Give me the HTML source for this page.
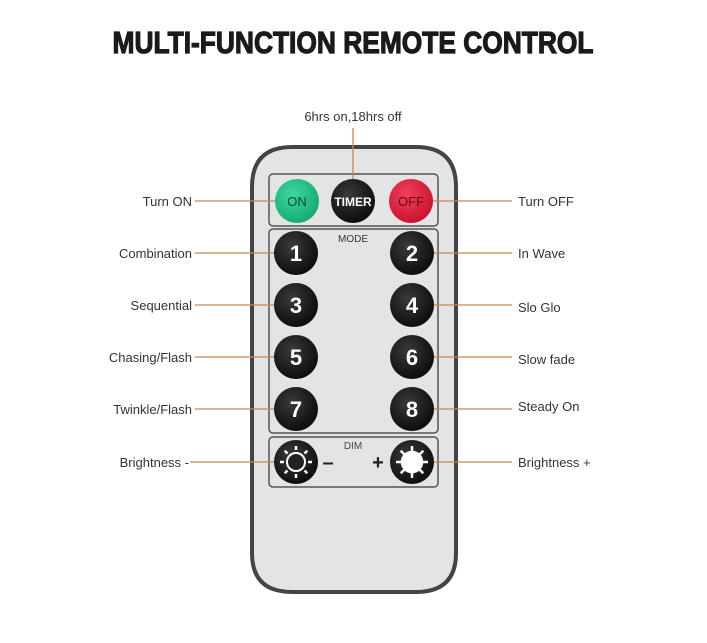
<!DOCTYPE html>
<html><head><meta charset="utf-8"><style>
body{margin:0;background:#fff;}
svg{display:block}
text{font-family:"Liberation Sans",sans-serif;}
</style></head><body>
<svg width="707" height="643" viewBox="0 0 707 643">
<defs>
<radialGradient id="blk" cx="0.4" cy="0.35" r="0.7"><stop offset="0" stop-color="#3a3a3a"/><stop offset="1" stop-color="#0a0a0a"/></radialGradient>
<radialGradient id="grn" cx="0.4" cy="0.35" r="0.7"><stop offset="0" stop-color="#3dd9a0"/><stop offset="1" stop-color="#14a870"/></radialGradient>
<radialGradient id="red" cx="0.4" cy="0.35" r="0.7"><stop offset="0" stop-color="#f0405a"/><stop offset="1" stop-color="#c8102e"/></radialGradient>
</defs>
<text x="353" y="53" text-anchor="middle" font-family="Liberation Sans Narrow, Liberation Sans, sans-serif" font-weight="bold" font-size="31" fill="#1a1a1a" stroke="#1a1a1a" stroke-width="1.2" textLength="481" lengthAdjust="spacingAndGlyphs">MULTI-FUNCTION REMOTE CONTROL</text>
<text x="353" y="121" text-anchor="middle" font-size="13" fill="#333">6hrs on,18hrs off</text>
<path d="M292 147 H416 Q456 147 456 187 V553 Q456 592 416 592 H292 Q252 592 252 553 V187 Q252 147 292 147 Z" fill="#e4e4e4" stroke="#444" stroke-width="4"/>
<rect x="269" y="174" width="169" height="52" rx="4" fill="none" stroke="#555" stroke-width="1.5"/>
<rect x="269" y="229" width="169" height="204" rx="4" fill="none" stroke="#555" stroke-width="1.5"/>
<rect x="269" y="437" width="169" height="50" rx="4" fill="none" stroke="#555" stroke-width="1.5"/>
<text x="353" y="242" text-anchor="middle" font-size="10" fill="#333">MODE</text>
<text x="353" y="449" text-anchor="middle" font-size="10" fill="#444">DIM</text>
<g stroke="#c8864a" stroke-width="1.3">
<line x1="353" y1="128" x2="353" y2="185"/>
<line x1="195" y1="201" x2="280" y2="201"/><line x1="428" y1="201" x2="512" y2="201"/>
<line x1="195" y1="253" x2="280" y2="253"/><line x1="428" y1="253" x2="512" y2="253"/>
<line x1="195" y1="305" x2="280" y2="305"/><line x1="428" y1="305" x2="512" y2="305"/>
<line x1="195" y1="357" x2="280" y2="357"/><line x1="428" y1="357" x2="512" y2="357"/>
<line x1="195" y1="409" x2="280" y2="409"/><line x1="428" y1="409" x2="512" y2="409"/>
<line x1="190" y1="462" x2="280" y2="462"/><line x1="428" y1="462" x2="512" y2="462"/>
</g>
<circle cx="297" cy="201" r="22" fill="url(#grn)"/>
<circle cx="353" cy="201" r="22" fill="url(#blk)"/>
<circle cx="411" cy="201" r="22" fill="url(#red)"/>
<text x="297" y="206" text-anchor="middle" font-size="13" fill="#0d4a30">ON</text>
<text x="353" y="206" text-anchor="middle" font-size="12" font-weight="bold" fill="#fff">TIMER</text>
<text x="411" y="206" text-anchor="middle" font-size="13" fill="#6a0a14">OFF</text>
<g fill="url(#blk)">
<circle cx="296" cy="253" r="22"/><circle cx="412" cy="253" r="22"/>
<circle cx="296" cy="305" r="22"/><circle cx="412" cy="305" r="22"/>
<circle cx="296" cy="357" r="22"/><circle cx="412" cy="357" r="22"/>
<circle cx="296" cy="409" r="22"/><circle cx="412" cy="409" r="22"/>
<circle cx="296" cy="462" r="22"/><circle cx="412" cy="462" r="22"/>
</g>
<g font-size="22" font-weight="bold" fill="#fff" text-anchor="middle">
<text x="296" y="261">1</text><text x="412" y="261">2</text>
<text x="296" y="313">3</text><text x="412" y="313">4</text>
<text x="296" y="365">5</text><text x="412" y="365">6</text>
<text x="296" y="417">7</text><text x="412" y="417">8</text>
</g>
<g stroke="#fff" stroke-width="2.5">
<circle cx="296" cy="462" r="9" fill="#222" stroke-width="2"/>
<g transform="translate(296 462)">
<line x1="0" y1="-12" x2="0" y2="-16"/><line x1="0" y1="12" x2="0" y2="16"/><line x1="-12" y1="0" x2="-16" y2="0"/><line x1="12" y1="0" x2="16" y2="0"/>
<line x1="8.5" y1="8.5" x2="11.3" y2="11.3"/><line x1="-8.5" y1="8.5" x2="-11.3" y2="11.3"/><line x1="8.5" y1="-8.5" x2="11.3" y2="-11.3"/><line x1="-8.5" y1="-8.5" x2="-11.3" y2="-11.3"/>
</g>
<circle cx="412" cy="462" r="10" fill="#fff"/>
<g transform="translate(412 462)">
<line x1="0" y1="-10" x2="0" y2="-16"/><line x1="0" y1="10" x2="0" y2="16"/><line x1="-10" y1="0" x2="-16" y2="0"/><line x1="10" y1="0" x2="16" y2="0"/>
<line x1="7" y1="7" x2="11.3" y2="11.3"/><line x1="-7" y1="7" x2="-11.3" y2="11.3"/><line x1="7" y1="-7" x2="11.3" y2="-11.3"/><line x1="-7" y1="-7" x2="-11.3" y2="-11.3"/>
</g>
</g>
<text x="328" y="469" text-anchor="middle" font-size="20" font-weight="bold" fill="#222">–</text>
<text x="378" y="469" text-anchor="middle" font-size="20" font-weight="bold" fill="#222">+</text>
<g font-size="13" fill="#333">
<g text-anchor="end">
<text x="192" y="206">Turn ON</text>
<text x="192" y="258">Combination</text>
<text x="192" y="310">Sequential</text>
<text x="192" y="362">Chasing/Flash</text>
<text x="192" y="414">Twinkle/Flash</text>
<text x="189" y="467">Brightness -</text>
</g>
<text x="518" y="206">Turn OFF</text>
<text x="518" y="258">In Wave</text>
<text x="518" y="312">Slo Glo</text>
<text x="518" y="364">Slow fade</text>
<text x="518" y="411">Steady On</text>
<text x="518" y="467">Brightness +</text>
</g>
</svg>
</body></html>
